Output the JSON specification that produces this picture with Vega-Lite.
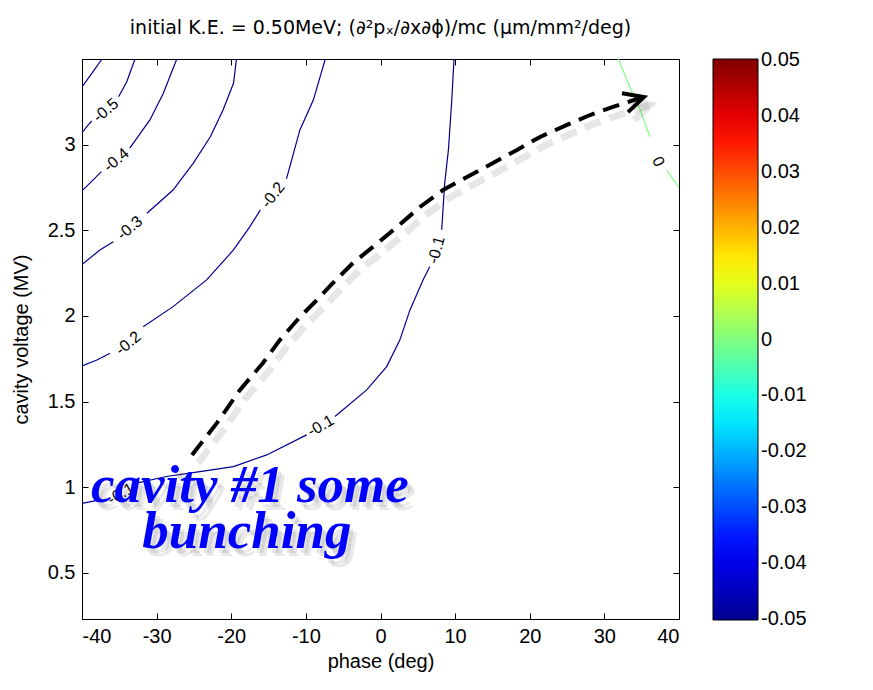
{
  "$schema": "https://vega.github.io/schema/vega-lite/v6.json",
  "width": 597,
  "height": 560,
  "autosize": {"type": "none"},
  "padding": {"left": 82, "top": 59, "right": 194, "bottom": 71},
  "background": "white",
  "title": {
    "text": "initial K.E. = 0.50MeV; (∂²pₓ/∂x∂ϕ)/mc (µm/mm²/deg)",
    "fontSize": 19,
    "font": "DejaVu Sans",
    "fontWeight": "normal",
    "color": "black",
    "offset": 21,
    "anchor": "middle"
  },
  "config": {
    "locale": {"number": {"decimal": ".", "thousands": ",", "grouping": [3], "currency": ["$", ""], "minus": "-"}},
    "view": {"stroke": "black", "strokeWidth": 1},
    "axis": {
      "labelFont": "Liberation Sans",
      "labelFontSize": 20,
      "labelColor": "black",
      "titleFont": "Liberation Sans",
      "titleFontSize": 20,
      "titleFontWeight": "normal",
      "titleColor": "black",
      "domainColor": "black",
      "tickColor": "black",
      "tickSize": -6,
      "grid": false,
      "labelPadding": 13,
      "labelOverlap": false,
      "format": "~f"
    }
  },
  "datasets": {
    "contours": [
      {"level": -0.6, "seg": "a6", "x": -40, "y": 3.337},
      {"level": -0.6, "seg": "a6", "x": -38.66, "y": 3.418},
      {"level": -0.6, "seg": "a6", "x": -37.32, "y": 3.5},
      {"level": -0.5, "seg": "a5", "x": -40, "y": 3.07},
      {"level": -0.5, "seg": "a5", "x": -39.16, "y": 3.115},
      {"level": -0.5, "seg": "a5", "x": -38.7, "y": 3.138},
      {"level": -0.5, "seg": "b5", "x": -35.1, "y": 3.28},
      {"level": -0.5, "seg": "b5", "x": -34.0, "y": 3.367},
      {"level": -0.5, "seg": "b5", "x": -32.9, "y": 3.5},
      {"level": -0.4, "seg": "a4", "x": -40, "y": 2.73},
      {"level": -0.4, "seg": "a4", "x": -38.5, "y": 2.794},
      {"level": -0.4, "seg": "a4", "x": -37.4, "y": 2.842},
      {"level": -0.4, "seg": "b4", "x": -33.6, "y": 2.979},
      {"level": -0.4, "seg": "b4", "x": -30.9, "y": 3.144},
      {"level": -0.4, "seg": "b4", "x": -29.1, "y": 3.3},
      {"level": -0.4, "seg": "b4", "x": -27.3, "y": 3.5},
      {"level": -0.3, "seg": "a3", "x": -40, "y": 2.3},
      {"level": -0.3, "seg": "a3", "x": -37.6, "y": 2.385},
      {"level": -0.3, "seg": "a3", "x": -35.8, "y": 2.433},
      {"level": -0.3, "seg": "b3", "x": -31.3, "y": 2.599},
      {"level": -0.3, "seg": "b3", "x": -27.8, "y": 2.735},
      {"level": -0.3, "seg": "b3", "x": -25.1, "y": 2.891},
      {"level": -0.3, "seg": "b3", "x": -22.8, "y": 3.046},
      {"level": -0.3, "seg": "b3", "x": -21.1, "y": 3.202},
      {"level": -0.3, "seg": "b3", "x": -19.7, "y": 3.358},
      {"level": -0.3, "seg": "b3", "x": -19.3, "y": 3.5},
      {"level": -0.2, "seg": "a2", "x": -40, "y": 1.708},
      {"level": -0.2, "seg": "a2", "x": -38, "y": 1.742},
      {"level": -0.2, "seg": "a2", "x": -36.25, "y": 1.782},
      {"level": -0.2, "seg": "b2", "x": -31.8, "y": 1.937},
      {"level": -0.2, "seg": "b2", "x": -27.8, "y": 2.054},
      {"level": -0.2, "seg": "b2", "x": -23.3, "y": 2.21},
      {"level": -0.2, "seg": "b2", "x": -19.7, "y": 2.385},
      {"level": -0.2, "seg": "b2", "x": -17.5, "y": 2.521},
      {"level": -0.2, "seg": "b2", "x": -16.1, "y": 2.619},
      {"level": -0.2, "seg": "c2", "x": -12.6, "y": 2.8},
      {"level": -0.2, "seg": "c2", "x": -10.8, "y": 3.086},
      {"level": -0.2, "seg": "c2", "x": -9.0, "y": 3.26},
      {"level": -0.2, "seg": "c2", "x": -7.4, "y": 3.5},
      {"level": -0.1, "seg": "a1", "x": -40, "y": 0.905},
      {"level": -0.1, "seg": "a1", "x": -37.6, "y": 0.926},
      {"level": -0.1, "seg": "b1", "x": -32.7, "y": 1.023},
      {"level": -0.1, "seg": "b1", "x": -28.7, "y": 1.062},
      {"level": -0.1, "seg": "b1", "x": -24.2, "y": 1.091},
      {"level": -0.1, "seg": "b1", "x": -19.7, "y": 1.12},
      {"level": -0.1, "seg": "b1", "x": -15.25, "y": 1.188},
      {"level": -0.1, "seg": "b1", "x": -9.9, "y": 1.305},
      {"level": -0.1, "seg": "c1", "x": -6.1, "y": 1.412},
      {"level": -0.1, "seg": "c1", "x": -1.85, "y": 1.568},
      {"level": -0.1, "seg": "c1", "x": 0.83, "y": 1.704},
      {"level": -0.1, "seg": "c1", "x": 2.6, "y": 1.86},
      {"level": -0.1, "seg": "c1", "x": 3.95, "y": 2.035},
      {"level": -0.1, "seg": "c1", "x": 5.7, "y": 2.21},
      {"level": -0.1, "seg": "c1", "x": 6.6, "y": 2.287},
      {"level": -0.1, "seg": "d1", "x": 8.2, "y": 2.502},
      {"level": -0.1, "seg": "d1", "x": 8.6, "y": 2.774},
      {"level": -0.1, "seg": "d1", "x": 9.1, "y": 2.969},
      {"level": -0.1, "seg": "d1", "x": 9.55, "y": 3.26},
      {"level": -0.1, "seg": "d1", "x": 9.85, "y": 3.5},
      {"level": 0, "seg": "a0", "x": 31.87, "y": 3.5},
      {"level": 0, "seg": "a0", "x": 33.4, "y": 3.338},
      {"level": 0, "seg": "a0", "x": 34.8, "y": 3.202},
      {"level": 0, "seg": "a0", "x": 36.1, "y": 3.046},
      {"level": 0, "seg": "b0", "x": 38.35, "y": 2.852},
      {"level": 0, "seg": "b0", "x": 39.9, "y": 2.755},
      {"level": 0, "seg": "b0", "x": 40, "y": 2.748}
    ],
    "labels": [
      {"t": "-0.5", "grp": "A", "x": -36.8, "y": 3.2},
      {"t": "-0.4", "grp": "A", "x": -35.4, "y": 2.91},
      {"t": "-0.3", "grp": "A", "x": -33.6, "y": 2.513},
      {"t": "-0.2", "grp": "A", "x": -33.8, "y": 1.84},
      {"t": "-0.1", "grp": "B", "x": -8.0, "y": 1.358},
      {"t": "-0.1", "grp": "B", "x": -34.8, "y": 0.96},
      {"t": "-0.2", "grp": "C", "x": -14.4, "y": 2.706},
      {"t": "-0.1", "grp": "D", "x": 7.5, "y": 2.385},
      {"t": "0", "grp": "E", "x": 37.2, "y": 2.9}
    ],
    "arrow": [
      {"x": -25.26, "y": 1.188},
      {"x": -21.91, "y": 1.375},
      {"x": -18.83, "y": 1.568},
      {"x": -15.75, "y": 1.725},
      {"x": -13.47, "y": 1.86},
      {"x": -10.79, "y": 1.994},
      {"x": -8.51, "y": 2.093},
      {"x": -6.37, "y": 2.192},
      {"x": -3.69, "y": 2.309},
      {"x": -1.01, "y": 2.403},
      {"x": 2.21, "y": 2.519},
      {"x": 5.29, "y": 2.636},
      {"x": 8.38, "y": 2.735},
      {"x": 11.59, "y": 2.811},
      {"x": 15.08, "y": 2.893},
      {"x": 18.29, "y": 2.969},
      {"x": 21.37, "y": 3.045},
      {"x": 24.99, "y": 3.115},
      {"x": 28.07, "y": 3.173},
      {"x": 31.16, "y": 3.22},
      {"x": 35.18, "y": 3.278}
    ],
    "head": [
      {"x": 32.36, "y": 3.3},
      {"x": 35.3, "y": 3.278},
      {"x": 33.17, "y": 3.19}
    ],
    "annot": [
      {"t": "cavity #1 some", "x": -17.5, "y": 0.914},
      {"t": "bunching", "x": -17.9, "y": 0.645}
    ]
  },
  "layer": [
    {
      "data": {"name": "contours"},
      "mark": {"type": "line", "strokeWidth": 1.2, "clip": true},
      "encoding": {
        "x": {
          "field": "x", "type": "quantitative",
          "scale": {"domain": [-40, 40], "nice": false, "zero": false},
          "axis": {"orient": "bottom", "values": [-40, -30, -20, -10, 0, 10, 20, 30, 40], "title": "phase (deg)", "titlePadding": 5}
        },
        "y": {
          "field": "y", "type": "quantitative",
          "scale": {"domain": [0.23, 3.5], "nice": false, "zero": false},
          "axis": {"orient": "left", "values": [0.5, 1, 1.5, 2, 2.5, 3], "title": "cavity voltage (MV)", "titlePadding": 16}
        },
        "color": {
          "field": "level", "type": "quantitative",
          "scale": {
            "domain": [-0.0502, -0.0375, -0.0125, 0.0125, 0.0375, 0.0502],
            "range": ["#00008F", "#0000FF", "#00FFFF", "#FFFF00", "#FF0000", "#800000"],
            "clamp": true,
            "interpolate": "rgb"
          },
          "legend": {
            "orient": "none", "legendX": 631, "legendY": 0,
            "direction": "vertical", "type": "gradient",
            "gradientLength": 561, "gradientThickness": 45,
            "title": null,
            "values": [0.05, 0.04, 0.03, 0.02, 0.01, 0, -0.01, -0.02, -0.03, -0.04, -0.05],
            "format": ".2~f",
            "labelFontSize": 20, "labelFont": "Liberation Sans", "labelColor": "black",
            "labelOffset": 3, "labelBaseline": "middle", "labelOverlap": false,
            "gradientStrokeColor": "black", "gradientStrokeWidth": 1, "padding": 0
          }
        },
        "detail": {"field": "seg"},
        "order": {"value": null}
      }
    },
    {
      "data": {"name": "labels"},
      "transform": [{"filter": "datum.grp == 'A'"}],
      "mark": {"type": "text", "angle": -40, "fontSize": 16, "font": "Liberation Sans", "color": "black", "align": "center", "baseline": "middle"},
      "encoding": {"x": {"field": "x", "type": "quantitative", "axis": null}, "y": {"field": "y", "type": "quantitative", "axis": null}, "text": {"field": "t"}}
    },
    {
      "data": {"name": "labels"},
      "transform": [{"filter": "datum.grp == 'B'"}],
      "mark": {"type": "text", "angle": -30, "fontSize": 16, "font": "Liberation Sans", "color": "black", "align": "center", "baseline": "middle"},
      "encoding": {"x": {"field": "x", "type": "quantitative", "axis": null}, "y": {"field": "y", "type": "quantitative", "axis": null}, "text": {"field": "t"}}
    },
    {
      "data": {"name": "labels"},
      "transform": [{"filter": "datum.grp == 'C'"}],
      "mark": {"type": "text", "angle": -52, "fontSize": 16, "font": "Liberation Sans", "color": "black", "align": "center", "baseline": "middle"},
      "encoding": {"x": {"field": "x", "type": "quantitative", "axis": null}, "y": {"field": "y", "type": "quantitative", "axis": null}, "text": {"field": "t"}}
    },
    {
      "data": {"name": "labels"},
      "transform": [{"filter": "datum.grp == 'D'"}],
      "mark": {"type": "text", "angle": -75, "fontSize": 16, "font": "Liberation Sans", "color": "black", "align": "center", "baseline": "middle"},
      "encoding": {"x": {"field": "x", "type": "quantitative", "axis": null}, "y": {"field": "y", "type": "quantitative", "axis": null}, "text": {"field": "t"}}
    },
    {
      "data": {"name": "labels"},
      "transform": [{"filter": "datum.grp == 'E'"}],
      "mark": {"type": "text", "angle": 63, "fontSize": 16, "font": "Liberation Sans", "color": "black", "align": "center", "baseline": "middle"},
      "encoding": {"x": {"field": "x", "type": "quantitative", "axis": null}, "y": {"field": "y", "type": "quantitative", "axis": null}, "text": {"field": "t"}}
    },
    {
      "data": {"name": "arrow"},
      "mark": {"type": "line", "color": "#555555", "opacity": 0.15, "strokeWidth": 7, "strokeDash": [17, 9], "xOffset": 6, "yOffset": 8},
      "encoding": {"x": {"field": "x", "type": "quantitative", "axis": null}, "y": {"field": "y", "type": "quantitative", "axis": null}, "order": {"value": null}}
    },
    {
      "data": {"name": "head"},
      "mark": {"type": "line", "color": "#555555", "opacity": 0.15, "strokeWidth": 7, "xOffset": 6, "yOffset": 8},
      "encoding": {"x": {"field": "x", "type": "quantitative", "axis": null}, "y": {"field": "y", "type": "quantitative", "axis": null}, "order": {"value": null}}
    },
    {
      "data": {"name": "arrow"},
      "mark": {"type": "line", "color": "black", "strokeWidth": 4, "strokeDash": [17, 9]},
      "encoding": {
        "x": {"field": "x", "type": "quantitative", "axis": {"orient": "top", "values": [-40, -30, -20, -10, 0, 10, 20, 30, 40], "labels": false, "title": null}},
        "y": {"field": "y", "type": "quantitative", "axis": {"orient": "right", "values": [0.5, 1, 1.5, 2, 2.5, 3], "labels": false, "title": null}},
        "order": {"value": null}
      }
    },
    {
      "data": {"name": "head"},
      "mark": {"type": "line", "color": "black", "strokeWidth": 4, "strokeJoin": "miter"},
      "encoding": {"x": {"field": "x", "type": "quantitative", "axis": null}, "y": {"field": "y", "type": "quantitative", "axis": null}, "order": {"value": null}}
    },
    {
      "data": {"name": "annot"},
      "mark": {"type": "text", "font": "Liberation Serif", "fontStyle": "italic", "fontWeight": "bold", "fontSize": 53, "color": "#555555", "opacity": 0.13, "align": "center", "baseline": "alphabetic", "dx": 4, "dy": 5},
      "encoding": {"x": {"field": "x", "type": "quantitative", "axis": null}, "y": {"field": "y", "type": "quantitative", "axis": null}, "text": {"field": "t"}}
    },
    {
      "data": {"name": "annot"},
      "mark": {"type": "text", "font": "Liberation Serif", "fontStyle": "italic", "fontWeight": "bold", "fontSize": 53, "color": "#555555", "opacity": 0.13, "align": "center", "baseline": "alphabetic", "dx": 7, "dy": 8},
      "encoding": {"x": {"field": "x", "type": "quantitative", "axis": null}, "y": {"field": "y", "type": "quantitative", "axis": null}, "text": {"field": "t"}}
    },
    {
      "data": {"name": "annot"},
      "mark": {"type": "text", "font": "Liberation Serif", "fontStyle": "italic", "fontWeight": "bold", "fontSize": 53, "color": "#0000FF", "align": "center", "baseline": "alphabetic"},
      "encoding": {"x": {"field": "x", "type": "quantitative", "axis": null}, "y": {"field": "y", "type": "quantitative", "axis": null}, "text": {"field": "t"}}
    }
  ],
  "resolve": {"axis": {"x": "independent", "y": "independent"}}
}
